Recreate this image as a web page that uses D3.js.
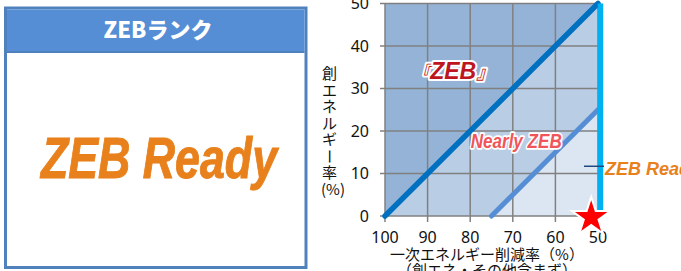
<html>
<head>
<meta charset="utf-8">
<style>
  body { margin: 0; background: #fff; }
  svg { display: block; }
  .tick { font-family: "Noto Sans", "Noto Sans CJK JP", sans-serif; font-size: 16px; fill: #111; }
  .jp { font-family: "Noto Sans CJK JP", sans-serif; fill: #111; }
</style>
<script src="https://cdn.jsdelivr.net/npm/d3@7"></script>
</head>
<body>
<div id="chart"></div>
<script>
// values
var xTicks = [100, 90, 80, 70, 60, 50];
var yTicks = [0, 10, 20, 30, 40, 50];
var zebArea = [[100, 0], [100, 50], [50, 50]];
var nearlyArea = [[100, 0], [50, 50], [50, 25], [75, 0]];
var readyArea = [[75, 0], [50, 25], [50, 0]];
var zebLine = [[100, 0], [50, 50]];
var nearlyLine = [[75, 0], [50, 25]];
var readyLine = [[50, 1], [50, 50]];
var star = [51.6, -0.3];
var yTitle = ["創", "エ", "ネ", "ル", "ギ", "ー", "率", "(%)"];
var xTitle = ["一次エネルギー削減率（%）", "（創エネ・その他含まず）"];
var panelTitle = "ZEBランク";
var rank = "ZEB Ready";

var svg = d3.select("#chart").append("svg")
  .attr("width", 681).attr("height", 271);

// ---- left panel
var panel = svg.append("g");
panel.append("rect").attr("x", 5.5).attr("y", 8).attr("width", 300.5).attr("height", 259.5)
  .attr("fill", "#fff").attr("stroke", "#4F81BD").attr("stroke-width", 3);
panel.append("rect").attr("x", 7).attr("y", 9.5).attr("width", 297.5).attr("height", 42)
  .attr("fill", "#558ED5");
panel.append("line").attr("x1", 7).attr("x2", 304.5).attr("y1", 52).attr("y2", 52)
  .attr("stroke", "#4F81BD").attr("stroke-width", 2);
panel.append("text").attr("x", 158).attr("y", 37.5)
  .attr("text-anchor", "middle")
  .style("font-family", "'Noto Sans CJK JP', sans-serif")
  .style("font-weight", "900").style("font-size", "22px").style("fill", "#fff")
  .text(panelTitle);
panel.append("text").attr("x", 159).attr("y", 178)
  .attr("text-anchor", "middle")
  .attr("textLength", 236).attr("lengthAdjust", "spacingAndGlyphs")
  .style("font-family", "'Liberation Sans', Arial, sans-serif")
  .style("font-weight", "bold").style("font-style", "italic")
  .style("font-size", "57px").style("fill", "#E8801C")
  .style("stroke", "#E8801C").style("stroke-width", 1)
  .text(rank);

// ---- right chart
var x = d3.scaleLinear().domain([100, 50]).range([385, 598]);
var y = d3.scaleLinear().domain([0, 50]).range([216, 3.5]);
var line = d3.line().x(function (d) { return x(d[0]); }).y(function (d) { return y(d[1]); });

var g = svg.append("g");
g.append("path").attr("d", line(zebArea) + "Z").attr("fill", "#95B3D7");
g.append("path").attr("d", line(nearlyArea) + "Z").attr("fill", "#B9CDE5");
g.append("path").attr("d", line(readyArea) + "Z").attr("fill", "#DCE6F2");

// grid
g.selectAll(".vg").data(xTicks).enter().append("line")
  .attr("x1", function (d) { return x(d); }).attr("x2", function (d) { return x(d); })
  .attr("y1", y(50)).attr("y2", y(0) + 6)
  .attr("stroke", "#808080").attr("stroke-width", 1.5);
g.selectAll(".hg").data(yTicks).enter().append("line")
  .attr("x1", x(100) - 5).attr("x2", x(50))
  .attr("y1", function (d) { return y(d); }).attr("y2", function (d) { return y(d); })
  .attr("stroke", "#808080").attr("stroke-width", 1.5);

// tick labels
g.selectAll(".yl").data(yTicks).enter().append("text").attr("class", "tick")
  .attr("x", 369).attr("y", function (d) { return y(d); }).attr("dy", "0.36em")
  .attr("text-anchor", "end").text(function (d) { return d; });
g.selectAll(".xl").data(xTicks).enter().append("text").attr("class", "tick")
  .attr("x", function (d) { return x(d); }).attr("y", 243)
  .attr("text-anchor", "middle").text(function (d) { return d; });

// boundary lines
g.append("path").attr("d", line(nearlyLine)).attr("stroke", "#558ED5")
  .attr("stroke-width", 5).attr("fill", "none").attr("stroke-linecap", "round");
g.append("path").attr("d", line(zebLine)).attr("stroke", "#0070C0")
  .attr("stroke-width", 5.5).attr("fill", "none").attr("stroke-linecap", "round");
g.append("path").attr("d", line(readyLine)).attr("transform", "translate(2.5,0)")
  .attr("stroke", "#00B0F0").attr("stroke-width", 5.5).attr("fill", "none");

// star
g.append("path").attr("d", d3.symbol(d3.symbolStar, 460)())
  .attr("transform", "translate(" + x(star[0]) + "," + y(star[1]) + ")")
  .attr("fill", "#FF0000").attr("stroke", "#fff").attr("stroke-width", 2);

// region labels
var zebLabel = g.append("text").attr("x", x(84)).attr("y", y(32.2)).attr("text-anchor", "middle")
  .style("font-family", "'Liberation Sans', 'Noto Sans CJK JP', sans-serif")
  .style("font-weight", "bold").style("font-style", "italic").style("font-size", "23px")
  .style("fill", "#BE1620").style("stroke", "#fff").style("stroke-width", 4)
  .style("paint-order", "stroke").style("stroke-linejoin", "round");
zebLabel.append("tspan").style("font-size", "18px").text("『");
zebLabel.append("tspan").text("ZEB");
zebLabel.append("tspan").style("font-size", "18px").text("』");

g.append("text").attr("x", x(69.2)).attr("y", y(16)).attr("text-anchor", "middle")
  .attr("textLength", 91).attr("lengthAdjust", "spacingAndGlyphs")
  .style("font-family", "'Liberation Sans', sans-serif")
  .style("font-weight", "bold").style("font-style", "italic").style("font-size", "20px")
  .style("fill", "#F0555C").style("stroke", "#fff").style("stroke-width", 3.5)
  .style("paint-order", "stroke").style("stroke-linejoin", "round")
  .text("Nearly ZEB");

// ZEB Ready callout
g.append("line").attr("x1", x(50) - 14).attr("x2", x(50) + 6)
  .attr("y1", y(11.7)).attr("y2", y(11.7))
  .attr("stroke", "#1F497D").attr("stroke-width", 1.5);
g.append("text").attr("x", x(50) + 7).attr("y", y(9.6))
  .style("font-family", "'Liberation Sans', sans-serif")
  .style("font-weight", "bold").style("font-style", "italic").style("font-size", "18px")
  .style("fill", "#E8801C").style("stroke", "#fff").style("stroke-width", 2.5)
  .style("paint-order", "stroke").style("stroke-linejoin", "round")
  .text(rank);

// axis titles
g.selectAll(".yt").data(yTitle).enter().append("text").attr("class", "jp")
  .attr("text-anchor", "middle").style("font-size", "15px")
  .attr("transform", function (d, i) {
    var t = "translate(" + (d === "(%)" ? 333 : 329.5) + "," + (74 + 16.5 * i) + ")";
    return d === "ー" ? t + " rotate(90)" : t;
  })
  .attr("dy", "0.36em")
  .text(function (d) { return d; });
g.selectAll(".xt").data(xTitle).enter().append("text").attr("class", "jp")
  .attr("x", 487).attr("y", function (d, i) { return 260 + i * 16; })
  .attr("text-anchor", "middle").style("font-size", "15px")
  .text(function (d) { return d; });
</script>
</body>
</html>
